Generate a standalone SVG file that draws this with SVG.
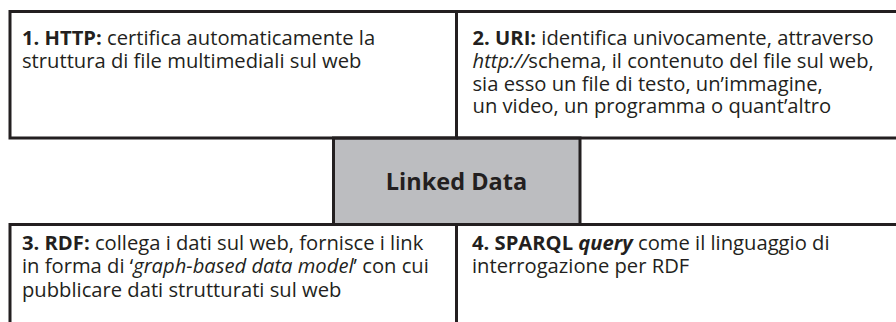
<svg xmlns="http://www.w3.org/2000/svg" width="896" height="322" viewBox="0 0 896 322">
<style>
.ln{stroke:#231f20;stroke-width:3;fill:none}
.grey{stroke:#231f20;stroke-width:3;fill:#bcbdc0}
.t{font-family:"Open Sans","Noto Sans","Liberation Sans",sans-serif;font-size:20.2px;fill:#231f20}
.b{font-weight:bold}
.i{font-style:italic}
.title{font-family:"Open Sans","Noto Sans","Liberation Sans",sans-serif;font-size:23.5px;font-weight:bold;fill:#231f20}
</style>
<rect width="896" height="322" fill="#ffffff"/>
<g id="node-linked-data">
<rect x="333.5" y="138" width="246.5" height="86.5" class="grey"/>
<text class="title" x="456.5" y="190" text-anchor="middle">Linked Data</text>
</g>
<g id="node-http">
<path class="ln" d="M10 138 V11.5 H456.5 V138 Z"/>
<text class="t" x="22" y="45"><tspan class="b">1. HTTP:</tspan> certifica automaticamente la<tspan x="22" dy="22.5">struttura di file multimediali sul web</tspan></text>
</g>
<g id="node-uri">
<path class="ln" d="M456.5 138 V11.5 H896 M456.5 138 H896"/>
<text class="t" x="472.5" y="45"><tspan class="b">2. URI:</tspan> identifica univocamente, attraverso<tspan x="472.5" dy="22.8" class="i">http://</tspan>schema, il contenuto del file sul web,<tspan x="472.5" dy="22.8">sia esso un file di testo, un’immagine,</tspan><tspan x="472.5" dy="22.8">un video, un programma o quant’altro</tspan></text>
</g>
<g id="node-rdf">
<path class="ln" d="M10 322 V224.5 H456.5 V322"/>
<text class="t" x="22" y="250"><tspan class="b">3. RDF:</tspan> collega i dati sul web, fornisce i link<tspan x="22" dy="23.3">in forma di ‘</tspan><tspan class="i">graph-based data model</tspan>’ con cui<tspan x="22" dy="23.3">pubblicare dati strutturati sul web</tspan></text>
</g>
<g id="node-sparql">
<path class="ln" d="M456.5 224.5 H896"/>
<text class="t" x="472" y="250"><tspan class="b">4. SPARQL </tspan><tspan class="b i">query</tspan> come il linguaggio di<tspan x="472" dy="23.3">interrogazione per RDF</tspan></text>
</g>
<g id="connectors"></g>
</svg>
